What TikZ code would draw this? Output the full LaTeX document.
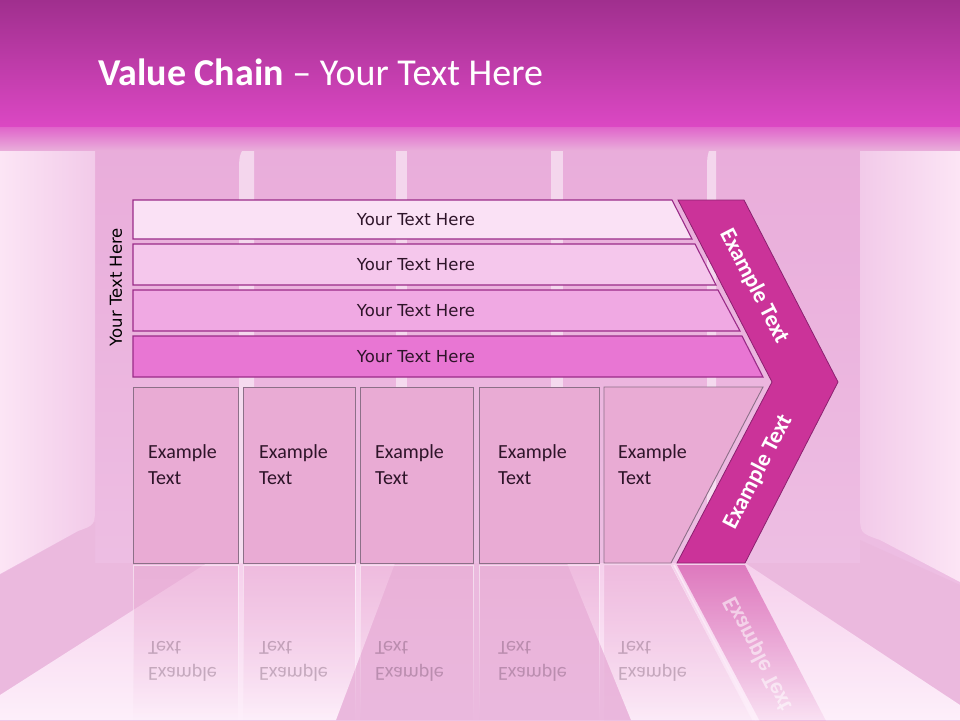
\documentclass[tikz,border=0pt]{standalone}
\usepackage{fontspec}
\setmainfont{Carlito}
\newfontfamily\verdfont{DejaVu Sans}
\usepackage{tikz}
\usetikzlibrary{fadings}

\definecolor{titletop}{HTML}{A02F8E}
\definecolor{titlebot}{HTML}{DC48C4}
\definecolor{walltop}{HTML}{E9ACDA}
\definecolor{wallpink}{HTML}{EFC4E6}
\definecolor{panellight}{HTML}{FCE5F5}
\definecolor{paneldark}{HTML}{F2CAE9}
\definecolor{floorpink}{HTML}{EBB9DE}
\definecolor{beamtop}{HTML}{F6D0EC}
\definecolor{beambot}{HTML}{FDEFFA}
\definecolor{barone}{HTML}{FAE1F5}
\definecolor{bartwo}{HTML}{F5C7EC}
\definecolor{barthree}{HTML}{F0A9E3}
\definecolor{barfour}{HTML}{E876D3}
\definecolor{barline}{HTML}{9A2B88}
\definecolor{chevfill}{HTML}{CB3399}
\definecolor{chevline}{HTML}{8C2170}
\definecolor{boxfill}{HTML}{E9ABD4}
\definecolor{boxline}{HTML}{8C7088}
\definecolor{inktext}{HTML}{2E1429}

\tikzfading[name=fade down, top color=transparent!45, bottom color=transparent!100]

\begin{document}
\begin{tikzpicture}[x=1pt,y=-1pt,
  bar/.style={draw=barline,line width=1.1pt},
  barlabel/.style={font=\verdfont\fontsize{16.5}{20}\selectfont,text=inktext},
  card/.style={fill=boxfill,draw=boxline,line width=0.9pt},
  cardlabel/.style={font=\fontsize{20}{26}\selectfont,text=inktext,align=left,anchor=west,inner sep=0pt},
  chevlabel/.style={font=\bfseries\fontsize{23}{26}\selectfont,text=white},
  glass/.style={path fading=fade down},
  flipped/.style={yscale=-1,text opacity=0.25},
  stripe/.style={fill=white,opacity=0.5}]
  \useasboundingbox (0,0) rectangle (960,720);

  % wall and floor
  \shade[top color=walltop,bottom color=wallpink] (0,128) rectangle (960,720);
  \fill[floorpink] (0,575) -- (95,522) -- (95,563) -- (860,563) -- (860,540) -- (960,585) -- (960,720) -- (0,720) -- cycle;
  \shade[top color=beamtop,bottom color=beambot] (0,695) -- (207,563) -- (395,563) -- (336,720) -- (0,720) -- cycle;
  \shade[top color=beamtop,bottom color=beambot] (567,563) -- (745,563) -- (960,705) -- (960,720) -- (631,720) -- cycle;
  \shade[left color=panellight,right color=paneldark] (0,128) -- (95,128) -- (95,505) .. controls (95,525) .. (78,531) -- (0,574) -- cycle;
  \shade[left color=paneldark,right color=panellight] (960,128) -- (860,128) -- (860,513) .. controls (860,533) .. (880,540) -- (960,582) -- cycle;
  \fill[stripe] (239,563) -- (239,175) .. controls (239,155) .. (247,143) -- (254,143) -- (254,563) -- cycle;
  \fill[stripe] (396,130) rectangle (407,563);
  \fill[stripe] (551,130) rectangle (563,563);
  \fill[stripe] (707,563) -- (707,175) .. controls (707,155) .. (712,143) -- (716,143) -- (716,563) -- cycle;

  % title bar
  \shade[top color=titletop,bottom color=titlebot] (0,0) rectangle (960,128);
  \shade[top color=titlebot!70!walltop,bottom color=walltop] (0,127.5) rectangle (960,150);
  \node[anchor=base west,inner sep=0pt,text=white,font=\fontsize{38}{41}\selectfont] (title) at (98,85) {\textbf{Value Chain} – Your Text Here};

  \node[barlabel,rotate=90,text=black] (sidelabel) at (116,287) {Your Text Here};

  % bars
  \draw[bar,fill=barone] (133,200) -- (672,200) -- (692,239) -- (133,239) -- cycle;
  \draw[bar,fill=bartwo] (133,244) -- (695,244) -- (716,285) -- (133,285) -- cycle;
  \draw[bar,fill=barthree] (133,290) -- (718,290) -- (740,331) -- (133,331) -- cycle;
  \draw[bar,fill=barfour] (133,336) -- (742,336) -- (763,377) -- (133,377) -- cycle;
  \node[barlabel] (barA) at (416,219.5) {Your Text Here};
  \node[barlabel] (barB) at (416,265) {Your Text Here};
  \node[barlabel] (barC) at (416,310.5) {Your Text Here};
  \node[barlabel] (barD) at (416,356.5) {Your Text Here};

  % chevron
  \draw[fill=chevfill,draw=chevline,line width=0.8pt] (678,200) -- (744,200) -- (838,382) -- (745,563) -- (677,563) -- (772,382) -- cycle;
  \node[chevlabel,rotate=-62.7] (chevtop) at (754,286) {Example Text};
  \node[chevlabel,rotate=62.7] (chevbot) at (758,472) {Example Text};

  % cards
  \draw[card] (133,387) rectangle (238,563);
  \draw[card] (243,387) rectangle (355,563);
  \draw[card] (360,387) rectangle (473,563);
  \draw[card] (479,387) rectangle (599,563);
  \draw[card] (604,387) -- (763,387) -- (671,563) -- (604,563) -- cycle;
  \node[cardlabel] (cardA) at (148,465) {Example\\Text};
  \node[cardlabel] (cardB) at (259,465) {Example\\Text};
  \node[cardlabel] (cardC) at (375,465) {Example\\Text};
  \node[cardlabel] (cardD) at (498,465) {Example\\Text};
  \node[cardlabel] (cardE) at (618,465) {Example\\Text};

  % code for reflections
  \draw[fill=boxfill,draw=white,glass] (133,565) rectangle (238,720);
  \draw[fill=boxfill,draw=white,glass] (243,565) rectangle (355,720);
  \draw[fill=boxfill,draw=white,glass] (360,565) rectangle (473,720);
  \draw[fill=boxfill,draw=white,glass] (479,565) rectangle (599,720);
  \draw[fill=boxfill,draw=white,glass] (604,565) -- (671,565) -- (763,741) -- (604,741) -- cycle;
  \fill[chevfill,glass] (677,565) -- (745,565) -- (838,744) -- (772,744) -- cycle;
  \draw[white,line width=1.5pt,glass] (674,565) -- (769,746);
  \node[cardlabel,flipped] (echoA) at (148,661) {Example\\Text};
  \node[cardlabel,flipped] (echoB) at (259,661) {Example\\Text};
  \node[cardlabel,flipped] (echoC) at (375,661) {Example\\Text};
  \node[cardlabel,flipped] (echoD) at (498,661) {Example\\Text};
  \node[cardlabel,flipped] (echoE) at (618,661) {Example\\Text};
  \node[chevlabel,rotate=-62.7,yscale=-1,text opacity=0.55] (chevecho) at (758,654) {Example Text};
\end{tikzpicture}
\end{document}
